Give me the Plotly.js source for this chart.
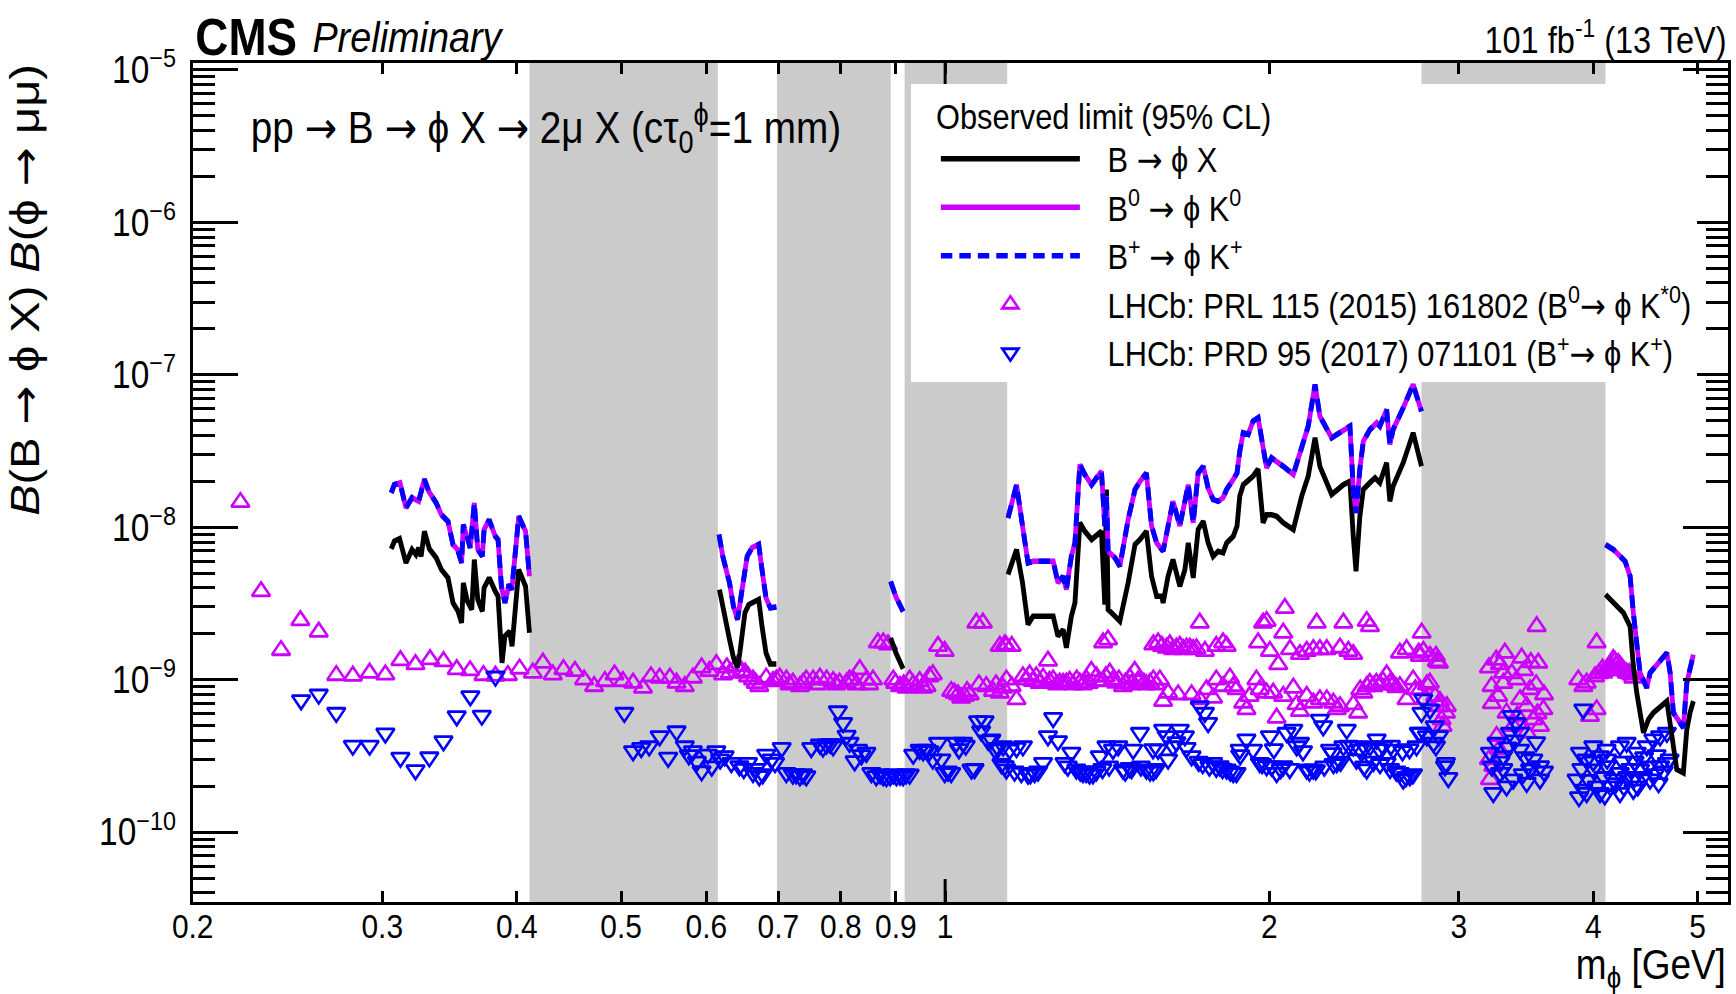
<!DOCTYPE html>
<html>
<head>
<meta charset="utf-8">
<script src="https://cdn.plot.ly/plotly-3.0.1.min.js"></script>
<style>
  html, body { margin: 0; padding: 0; background: #ffffff; overflow: hidden; width: 1736px; height: 994px; }
  /* the figure is laid out wider and then narrowed, which gives the condensed lettering of the page */
  #plot { width: 1973px; height: 994px; transform-origin: 0 0; }
</style>
</head>
<body>
<div id="plot"></div>
<script>
// Observed 95% CL limits on B(B -> phi X) B(phi -> mu mu), c*tau = 1 mm.
// null entries separate the mass windows that are vetoed.

// Inclusive B -> phi X limit
const massInclusive = [
  0.3058,0.3079,0.3113,0.3156,0.3197,0.3224,0.3243,0.326,0.3283,0.3318,0.3367,0.3404,0.3453,0.349,0.3528,0.3555,0.3568,0.3599,0.3633,0.3653,0.368,0.3716,0.373,0.3771,0.382,0.3843,0.3876,0.39,0.394,0.396,0.4017,0.4076,0.411,
  null,
  0.6171,0.6237,0.6305,0.6359,0.6414,0.6446,0.6481,0.6517,0.6571,0.6711,0.6759,0.6817,0.688,0.697,
  null,
  0.890,0.900,0.914,
  null,
  1.144,1.165,1.180,1.194,1.207,1.260,1.273,1.287,1.296,1.310,1.320,1.334,1.348,1.368,1.397,1.407,1.412,1.417,1.438,1.453,1.479,1.501,1.517,1.538,1.555,1.572,1.589,1.594,1.611,1.628,1.652,1.670,1.682,1.700,1.718,1.737,1.755,1.774,1.793,1.812,1.826,1.852,1.867,1.878,1.892,1.932,1.953,1.974,1.989,2.010,2.032,2.061,2.106,2.144,2.174,2.206,2.229,2.286,2.344,2.377,2.394,2.408,2.428,2.446,2.481,2.508,2.534,2.571,2.589,2.607,2.664,2.721,2.770,
  null,
  4.106,4.266,4.328,4.358,4.39,4.421,4.453,4.501,4.549,4.682,4.732,4.782,4.85,4.886,4.92,4.955
];
const limitInclusive = [
  7.22e-9,8.1e-9,8.4e-9,5.84e-9,7.14e-9,6.62e-9,7.33e-9,6.45e-9,9.4e-9,7.22e-9,6.3e-9,5.28e-9,4.66e-9,3.19e-9,2.81e-9,2.36e-9,4.32e-9,3.27e-9,2.88e-9,6.14e-9,3.36e-9,2.81e-9,4.01e-9,4.66e-9,3.8e-9,3.53e-9,1.29e-9,1.93e-9,2.08e-9,1.66e-9,5.28e-9,4.1e-9,2.03e-9,
  null,
  3.9e-9,2.61e-9,1.84e-9,1.39e-9,1.2e-9,1.5e-9,1.93e-9,2.75e-9,3.11e-9,3.36e-9,2.24e-9,1.5e-9,1.27e-9,1.27e-9,
  null,
  1.88e-9,1.5e-9,1.18e-9,
  null,
  4.9e-9,7.14e-9,4.32e-9,2.3e-9,2.61e-9,2.61e-9,1.93e-9,2.13e-9,1.62e-9,2.61e-9,3.19e-9,1.07e-8,9.42e-9,8.31e-9,9.42e-9,3.11e-9,1.77e-8,2.89e-9,2.61e-9,2.42e-9,4.32e-9,7.7e-9,8.31e-9,9.42e-9,4.77e-9,3.53e-9,3.53e-9,3.19e-9,4.77e-9,6.14e-9,4.1e-9,5.28e-9,7.9e-9,4.66e-9,9.66e-9,1.095e-8,7.9e-9,6.45e-9,6.96e-9,6.8e-9,7.9e-9,8.73e-9,1.02e-8,1.6e-8,1.9e-8,2.16e-8,2.41e-8,1.07e-8,1.21e-8,1.21e-8,1.18e-8,1.07e-8,9.66e-9,1.6e-8,2.16e-8,3.86e-8,2.51e-8,1.64e-8,1.9e-8,2.0e-8,8.73e-9,5.15e-9,1.18e-8,1.77e-8,1.96e-8,2.11e-8,1.96e-8,2.65e-8,1.48e-8,1.86e-8,2.65e-8,4.16e-8,2.51e-8,
  null,
  3.62e-9,2.75e-9,2.24e-9,1.23e-9,8.2e-10,5.77e-10,4.49e-10,5.48e-10,6.07e-10,7.23e-10,4.49e-10,2.58e-10,2.45e-10,4.71e-10,6.07e-10,7.23e-10
];

// Exclusive B0 -> phi K0 and B+ -> phi K+ limits (the two coincide)
const massExclusive = [
  0.3058,0.3079,0.3116,0.3156,0.3197,0.3243,0.3283,0.3314,0.3367,0.3404,0.3453,0.349,0.3524,0.3555,0.3568,0.3599,0.3621,0.3653,0.368,0.3716,0.373,0.3771,0.382,0.3843,0.3871,0.39,0.3934,0.3958,0.4017,0.4076,0.411,
  null,
  0.6165,0.6215,0.6305,0.6359,0.6414,0.6481,0.6548,0.6617,0.6711,0.6759,0.6817,0.688,0.697,
  null,
  0.890,0.900,0.914,
  null,
  1.144,1.165,1.180,1.194,1.207,1.260,1.273,1.287,1.296,1.310,1.320,1.334,1.348,1.368,1.397,1.407,1.412,1.417,1.438,1.453,1.479,1.501,1.517,1.538,1.555,1.572,1.594,1.611,1.628,1.652,1.670,1.682,1.700,1.718,1.737,1.755,1.774,1.793,1.812,1.826,1.852,1.867,1.878,1.892,1.912,1.932,1.953,1.974,1.989,2.010,2.032,2.061,2.106,2.144,2.174,2.206,2.229,2.286,2.344,2.377,2.394,2.408,2.428,2.446,2.481,2.517,2.534,2.571,2.589,2.607,2.664,2.721,2.770,
  null,
  4.106,4.176,4.282,4.328,4.358,4.39,4.421,4.485,4.517,4.682,4.715,4.748,4.85,4.886,4.92,4.955
];
const limitExclusive = [
  1.68e-8,1.905e-8,1.954e-8,1.34e-8,1.56e-8,1.48e-8,2.06e-8,1.72e-8,1.445e-8,1.21e-8,1.09e-8,7.7e-9,7.14e-9,5.84e-9,1.04e-8,8.3e-9,7.33e-9,1.445e-8,7.14e-9,6.45e-9,9.66e-9,1.12e-8,8.73e-9,8.3e-9,4.1e-9,3.19e-9,4.21e-9,3.9e-9,1.18e-8,9.4e-9,4.77e-9,
  null,
  8.95e-9,6.45e-9,4.32e-9,3.03e-9,2.48e-9,3.9e-9,6.45e-9,7.33e-9,7.7e-9,5.28e-9,3.44e-9,2.96e-9,3.0e-9,
  null,
  4.4e-9,3.5e-9,2.8e-9,
  null,
  1.15e-8,1.9e-8,1.02e-8,5.84e-9,5.98e-9,5.98e-9,4.32e-9,4.77e-9,3.9e-9,6.45e-9,7.9e-9,2.58e-8,2.22e-8,1.9e-8,2.33e-8,1.02e-8,1.6e-8,6.96e-9,6.3e-9,5.55e-9,1.12e-8,1.77e-8,2.0e-8,2.27e-8,1.02e-8,7.9e-9,6.96e-9,1.02e-8,1.48e-8,1.02e-8,1.48e-8,1.9e-8,1.07e-8,2.27e-8,2.51e-8,1.81e-8,1.52e-8,1.48e-8,1.56e-8,1.77e-8,2.06e-8,2.27e-8,3.15e-8,4.16e-8,4.06e-8,4.96e-8,5.22e-8,3.15e-8,2.45e-8,2.85e-8,2.71e-8,2.51e-8,2.22e-8,3.4e-8,4.6e-8,8.63e-8,5.34e-8,3.86e-8,4.37e-8,4.6e-8,1.77e-8,1.24e-8,2.41e-8,3.66e-8,4.37e-8,4.84e-8,4.6e-8,5.91e-8,3.49e-8,4.37e-8,6.07e-8,8.63e-8,5.76e-8,
  null,
  7.7e-9,7.14e-9,5.98e-9,4.77e-9,2.75e-9,1.66e-9,1.11e-9,8.85e-10,1.11e-9,1.5e-9,1.11e-9,6.07e-10,4.84e-10,9.55e-10,1.17e-9,1.46e-9
];

// LHCb, PRL 115 (2015) 161802: B0 -> phi K*0
const kstarMass = [
  0.2215,0.2315,0.2416,0.2518,0.2619,0.2719,0.2817,0.292,0.302,0.3119,0.3221,0.3323,0.342,0.3518,0.362,0.3725,0.3822,0.3925,0.4024,
  0.414,0.423,0.432,0.442,0.453,0.462,0.472,0.483,0.493,0.502,0.513,0.524,0.533,0.543,0.555,0.563,0.573,0.583,0.594,0.604,0.613,0.622,0.627,0.631,0.640,0.647,0.652,0.656,0.663,0.667,0.672,0.682,0.692,0.697,0.702,0.712,0.717,0.722,0.733,0.738,0.743,0.754,0.760,0.765,0.776,0.787,0.792,0.798,0.810,0.815,0.821,0.827,0.833,0.845,0.850,0.857,0.866,0.876,0.885,0.895,0.899,0.908,0.915,0.921,0.927,0.934,0.940,0.947,0.954,0.961,0.967,0.974,0.985,0.999,1.013,1.02,1.028,1.035,1.043,1.048,1.054,1.069,1.075,1.084,1.092,1.108,1.115,1.124,1.132,1.140,
  1.136,1.153,1.402,1.417,1.561,1.577,1.59,1.606,1.617,1.628,1.64,1.652,1.664,1.676,1.688,1.700,1.712,1.724,1.743,1.786,1.812,1.826,1.953,1.974,1.989,2.003,2.039,2.061,2.068,2.091,2.136,2.167,2.198,2.214,2.229,2.262,2.327,2.344,2.369,2.394,2.464,2.481,2.645,2.683,2.761,
  1.124,1.14,1.153,1.165,1.181,1.19,1.198,1.206,1.215,1.224,1.233,1.246,1.25,1.260,1.27,1.278,1.287,1.296,1.305,1.315,1.325,1.334,1.343,1.353,1.36,1.367,1.382,1.39,1.402,1.41,1.422,1.43,1.442,1.45,1.463,1.47,1.484,1.49,1.500,1.51,1.517,1.53,1.538,1.55,1.561,1.57,1.583,1.594,1.611,1.646,1.694,1.724,1.749,1.774,1.786,1.812,1.839,1.852,1.865,1.892,1.905,1.918,1.946,1.960,1.989,2.017,2.032,2.061,2.106,2.121,2.136,2.167,2.198,2.229,2.262,2.294,2.311,2.327,2.394,2.419,2.43,2.446,2.464,2.48,2.499,2.515,2.534,2.55,2.571,2.59,2.607,2.625,2.645,2.683,2.721,2.761,
  2.734,2.754,2.771,2.781,2.789,2.802,2.82,2.821,2.852,2.857,2.862,2.875,2.875,2.882,2.892,2.898,2.919,2.924,
  3.2,3.2,3.207,3.218,3.22,3.23,3.253,3.25,3.264,3.27,3.276,3.299,3.3,3.311,3.323,3.36,3.371,3.395,3.4,3.42,3.432,3.45,3.469,3.47,3.494,3.5,3.519,3.54,3.544,3.55,3.556,3.569,3.595,3.6,
  3.874,3.916,3.944,3.972,4.015,4.029,4.029,4.05,4.08,4.087,4.12,4.145,4.16,4.175,4.19,4.2,4.22,4.235,4.25,4.27,4.296,4.32,4.34,4.358
];
const kstarLimit = [
  1.46e-8,3.8e-9,1.56e-9,2.45e-9,2.06e-9,1.07e-9,1.06e-9,1.11e-9,1.08e-9,1.34e-9,1.26e-9,1.36e-9,1.32e-9,1.17e-9,1.15e-9,1.07e-9,1.06e-9,1.07e-9,1.18e-9,
  1.11e-9,1.29e-9,1.08e-9,1.17e-9,1.14e-9,1.0e-9,9.06e-10,9.77e-10,1.08e-9,9.77e-10,9.54e-10,8.85e-10,1.05e-9,1.03e-9,1.03e-9,9.54e-10,9.06e-10,1.03e-9,1.2e-9,1.14e-9,1.26e-9,1.08e-9,1.2e-9,1.11e-9,1.23e-9,1.14e-9,1.11e-9,1.05e-9,1.0e-9,9.5e-10,9.06e-10,1.03e-9,9.77e-10,1.0e-9,1.03e-9,1.0e-9,9.3e-10,9.54e-10,9.06e-10,9.5e-10,1.0e-9,1.0e-9,9.3e-10,1.03e-9,1.0e-9,9.77e-10,9.3e-10,9.54e-10,9.54e-10,1.0e-9,1.0e-9,9.3e-10,1.17e-9,1.0e-9,9.3e-10,1.0e-9,1.75e-9,1.75e-9,1.7e-9,1.0e-9,9.5e-10,9.06e-10,9.3e-10,8.85e-10,1.0e-9,9.3e-10,9.0e-10,9.77e-10,8.85e-10,9.06e-10,1.05e-9,1.08e-9,1.66e-9,1.54e-9,8.41e-10,8.2e-10,8.0e-10,7.6e-10,7.8e-10,8.4e-10,8.0e-10,2.36e-9,9.3e-10,2.36e-9,9.06e-10,8.41e-10,9.3e-10,1.66e-9,8.85e-10,1.66e-9,
  1.70e-9,1.66e-9,1.75e-9,1.83e-9,1.70e-9,1.75e-9,1.66e-9,1.62e-9,1.7e-9,1.58e-9,1.62e-9,1.66e-9,1.58e-9,1.62e-9,1.62e-9,1.58e-9,1.6e-9,2.36e-9,1.54e-9,1.66e-9,1.75e-9,1.66e-9,1.75e-9,2.36e-9,2.42e-9,1.54e-9,1.26e-9,2.03e-9,2.95e-9,1.58e-9,1.47e-9,1.54e-9,1.58e-9,2.36e-9,1.58e-9,1.58e-9,1.62e-9,2.36e-9,1.54e-9,1.47e-9,2.42e-9,2.24e-9,1.5e-9,1.58e-9,1.43e-9,
  8.2e-10,1.0e-9,9.06e-10,7.42e-10,1.05e-9,1.0e-9,1.08e-9,9.8e-10,1.05e-9,9.5e-10,1.03e-9,1.33e-9,9.8e-10,1.0e-9,9.3e-10,9.54e-10,9.5e-10,9.54e-10,9.8e-10,9.3e-10,1.0e-9,9.54e-10,9.3e-10,1.0e-9,9.5e-10,1.14e-9,1.05e-9,9.8e-10,9.77e-10,1.05e-9,1.11e-9,9.8e-10,9.54e-10,1.0e-9,9.06e-10,9.5e-10,1.03e-9,9.3e-10,1.14e-9,9.8e-10,1.0e-9,9.5e-10,9.3e-10,9.5e-10,1.0e-9,9.3e-10,1.0e-9,7.24e-10,8.2e-10,8.0e-10,8.0e-10,7.42e-10,8.63e-10,7.6e-10,1.0e-9,9.06e-10,1.03e-9,9.06e-10,8.63e-10,7.06e-10,6.38e-10,7.8e-10,1.0e-9,8.63e-10,8.2e-10,8.2e-10,5.62e-10,7.8e-10,8.85e-10,6.88e-10,6.23e-10,7.8e-10,7.06e-10,7.42e-10,7.42e-10,7.06e-10,6.38e-10,6.7e-10,6.88e-10,6.07e-10,8.6e-10,8.2e-10,9.06e-10,9.5e-10,9.06e-10,9.5e-10,9.3e-10,9.8e-10,1.08e-9,9.5e-10,9.3e-10,8.9e-10,9.06e-10,7.42e-10,1.0e-9,8.63e-10,
  8.63e-10,1.5e-9,2.03e-9,1.54e-9,7.42e-10,9.3e-10,9.54e-10,1.43e-9,7.8e-10,1.43e-9,1.32e-9,1.29e-9,6.7e-10,7.23e-10,5.48e-10,4.96e-10,6.07e-10,6.7e-10,
  1.2e-9,3.0e-10,2.22e-10,9.06e-10,7e-10,2.71e-10,4.26e-10,1.35e-9,7.8e-10,3.5e-10,1.26e-9,1.11e-9,9.5e-10,1.5e-9,6.07e-10,1.1e-9,4.96e-10,1.0e-9,5.8e-10,7.42e-10,1.39e-9,1.15e-9,6.7e-10,4.5e-10,8.63e-10,1.3e-9,5.48e-10,9.3e-10,2.24e-9,6.0e-10,1.29e-9,4.96e-10,6.38e-10,8e-10,
  1.0e-9,9.06e-10,9.54e-10,5.77e-10,1.05e-9,1.75e-9,6.38e-10,1.1e-9,1.18e-9,1.11e-9,1.15e-9,1.23e-9,1.2e-9,1.36e-9,1.32e-9,1.25e-9,1.28e-9,1.23e-9,1.2e-9,1.15e-9,1.11e-9,1.1e-9,1.08e-9,1.03e-9
];

// LHCb, PRD 95 (2017) 071101: B+ -> phi K+
const kplusMass = [
  0.2522,0.2619,0.2719,0.2817,0.292,0.302,0.3119,0.3221,0.3318,0.342,0.3518,0.3622,0.3712,0.3822,
  0.5035,0.513,0.522,0.531,0.543,0.553,0.563,0.573,0.578,0.583,0.588,0.594,0.602,0.607,0.613,0.618,0.624,0.633,0.644,0.65,0.656,0.663,0.667,0.672,0.677,0.682,0.69,0.695,0.705,0.712,0.722,0.727,0.733,0.738,0.743,0.751,0.765,0.77,0.776,0.782,0.787,0.795,0.804,0.81,0.815,0.824,0.830,0.836,0.845,0.854,0.863,0.87,0.876,0.882,0.889,0.895,0.901,0.908,0.914,0.92,0.927,0.934,0.947,0.954,0.961,0.967,0.974,0.985,0.992,0.999,1.006,1.013,1.024,1.03,1.039,1.045,1.058,1.065,1.073,1.08,1.088,1.096,1.104,1.112,1.120,1.128,1.136,
  1.132,1.140,1.148,1.16,1.165,1.177,1.181,1.194,1.2,1.211,1.22,1.233,1.246,1.260,1.273,1.291,1.30,1.310,1.324,1.335,1.343,1.352,1.362,1.372,1.382,1.392,1.40,1.412,1.42,1.432,1.448,1.463,1.47,1.484,1.49,1.495,1.517,1.52,1.538,1.55,1.56,1.561,1.57,1.577,1.594,1.606,1.611,1.628,1.64,1.652,1.670,1.676,1.694,1.72,1.724,1.735,1.743,1.755,1.76,1.774,1.786,1.799,1.81,1.826,1.84,1.852,1.865,1.878,1.88,1.905,1.932,1.960,1.97,1.989,2.003,2.01,2.02,2.032,2.05,2.061,2.076,2.09,2.106,2.121,2.136,2.15,2.167,2.18,2.198,2.21,2.229,2.245,2.25,2.278,2.29,2.295,2.311,2.33,2.344,2.361,2.37,2.394,2.41,2.428,2.45,2.455,2.464,2.481,2.50,2.517,2.53,2.535,2.552,2.571,2.59,2.595,2.607,2.625,2.645,2.66,2.664,2.68,2.70,2.702,2.72,2.741,2.761,
  2.754,2.77,2.781,2.802,2.821,2.842,2.85,2.857,2.875,2.913,2.919,2.934,
  3.207,3.22,3.23,3.253,3.276,3.28,3.299,3.3,3.323,3.33,3.347,3.36,3.371,3.38,3.395,3.42,3.42,3.44,3.46,3.469,3.494,3.5,3.519,3.54,3.569,3.569,3.6,
  3.86,3.88,3.888,3.9,3.916,3.916,3.944,3.944,3.96,4.0,4.0,4.0,4.03,4.058,4.058,4.09,4.1,4.116,4.116,4.12,4.15,4.175,4.2,4.235,4.235,4.235,4.26,4.27,4.296,4.3,4.33,4.358,4.358,4.37,4.39,4.4,4.421,4.45,4.46,4.485,4.5,4.517,4.549,4.56,4.58,4.6,4.615,4.615,4.65,4.682,4.682,4.71
];
const kplusLimit = [
  7.34e-10,8.0e-10,6.07e-10,3.7e-10,3.7e-10,4.44e-10,3.08e-10,2.55e-10,3.1e-10,3.95e-10,5.77e-10,7.8e-10,5.82e-10,1.05e-9,
  6.07e-10,3.4e-10,3.57e-10,3.66e-10,4.26e-10,3.08e-10,4.59e-10,3.66e-10,3.2e-10,3.4e-10,2.9e-10,2.51e-10,3.23e-10,2.7e-10,3.4e-10,3.0e-10,3.15e-10,2.85e-10,2.71e-10,2.6e-10,2.85e-10,2.45e-10,2.6e-10,2.33e-10,2.4e-10,3.23e-10,3.0e-10,2.85e-10,3.57e-10,2.45e-10,2.39e-10,2.4e-10,2.33e-10,2.4e-10,2.33e-10,3.57e-10,3.76e-10,3.6e-10,3.76e-10,3.8e-10,3.66e-10,6.21e-10,5.21e-10,4.3e-10,3.86e-10,2.92e-10,3.48e-10,3.2e-10,3.32e-10,2.45e-10,2.33e-10,2.4e-10,2.33e-10,2.3e-10,2.33e-10,2.4e-10,2.33e-10,2.35e-10,2.33e-10,2.4e-10,2.39e-10,3.23e-10,3.48e-10,3.4e-10,3.48e-10,3.4e-10,3.0e-10,3.86e-10,3.0e-10,2.45e-10,2.5e-10,2.45e-10,3.86e-10,3.5e-10,3.86e-10,3.7e-10,2.58e-10,2.6e-10,5.35e-10,4.6e-10,5.35e-10,4.0e-10,4.06e-10,3.5e-10,3.57e-10,2.8e-10,2.71e-10,
  3.66e-10,2.58e-10,3.48e-10,2.5e-10,3.57e-10,2.45e-10,3.66e-10,2.39e-10,2.4e-10,2.45e-10,2.5e-10,2.85e-10,4.26e-10,5.62e-10,3.96e-10,2.85e-10,2.7e-10,3.32e-10,2.58e-10,2.5e-10,2.45e-10,2.45e-10,2.39e-10,2.4e-10,2.51e-10,3.15e-10,2.6e-10,3.66e-10,2.7e-10,3.48e-10,3.66e-10,2.58e-10,2.5e-10,2.64e-10,2.6e-10,3.48e-10,4.49e-10,2.7e-10,2.58e-10,2.5e-10,3.5e-10,2.51e-10,2.6e-10,3.48e-10,4.71e-10,4.26e-10,3.0e-10,3.66e-10,3.9e-10,4.71e-10,4.26e-10,3.57e-10,3.15e-10,2.9e-10,6.7e-10,2.8e-10,6.07e-10,5.21e-10,2.7e-10,2.85e-10,2.65e-10,2.71e-10,2.6e-10,2.58e-10,2.5e-10,2.45e-10,2.45e-10,3.48e-10,3.2e-10,4.06e-10,3.48e-10,2.85e-10,2.8e-10,2.71e-10,4.26e-10,2.7e-10,3.5e-10,2.45e-10,2.6e-10,2.71e-10,4.49e-10,2.6e-10,4.71e-10,3.66e-10,3.86e-10,3.4e-10,2.58e-10,2.5e-10,2.58e-10,2.55e-10,5.48e-10,4.96e-10,2.7e-10,3.48e-10,3.3e-10,2.8e-10,2.85e-10,2.9e-10,3.66e-10,4.71e-10,3.7e-10,3.66e-10,3.0e-10,3.48e-10,2.7e-10,3.6e-10,2.58e-10,3.66e-10,2.9e-10,4.06e-10,3.5e-10,2.8e-10,3.66e-10,2.85e-10,2.6e-10,3.7e-10,3.48e-10,2.5e-10,2.45e-10,3.4e-10,2.22e-10,2.3e-10,3.5e-10,2.33e-10,2.4e-10,3.66e-10,4.49e-10,
  4.49e-10,6.07e-10,7.42e-10,4.26e-10,6.38e-10,3.86e-10,4.96e-10,3.66e-10,4.26e-10,2.71e-10,2.85e-10,2.27e-10,
  3.32e-10,2.7e-10,1.81e-10,3.86e-10,2.45e-10,2.9e-10,3.15e-10,2.6e-10,2.0e-10,3.6e-10,4.49e-10,5.8e-10,2.22e-10,4.0e-10,5.21e-10,3.48e-10,4.5e-10,2.4e-10,3.1e-10,2.11e-10,2.58e-10,2.6e-10,3.0e-10,3.9e-10,2.71e-10,2.22e-10,2.5e-10,
  2.22e-10,1.7e-10,3.32e-10,2.6e-10,6.38e-10,1.9e-10,3.0e-10,1.81e-10,2.2e-10,3.66e-10,2.58e-10,2.9e-10,2.0e-10,3.15e-10,1.81e-10,2.3e-10,1.75e-10,3.48e-10,2.71e-10,3.0e-10,2.0e-10,2.22e-10,2.1e-10,3.66e-10,2.45e-10,1.81e-10,2.9e-10,2.0e-10,3.86e-10,2.3e-10,2.6e-10,2.22e-10,1.9e-10,2.9e-10,3.32e-10,2.0e-10,2.58e-10,2.3e-10,3.1e-10,3.66e-10,2.7e-10,2.22e-10,4.06e-10,2.4e-10,3.2e-10,2.1e-10,4.26e-10,2.71e-10,2.5e-10,4.49e-10,2.85e-10,3.0e-10
];

// Vetoed mass windows (GeV)
const vetoLow  = [0.411, 0.698, 0.917, 2.770];
const vetoHigh = [0.615, 0.890, 1.142, 4.106];

// Axis ticks
const xTickVals = [0.2, 0.3, 0.4, 0.5, 0.6, 0.7, 0.8, 0.9, 1, 2, 3, 4, 5];
const xTickText = ['0.2', '0.3', '0.4', '0.5', '0.6', '0.7', '0.8', '0.9', '1', '2', '3', '4', '5'];
const yTickVals = [1e-10, 1e-9, 1e-8, 1e-7, 1e-6, 1e-5];
const yTickText = ['10<sup>\u221210</sup>', '10<sup>\u22129</sup>', '10<sup>\u22128</sup>',
                   '10<sup>\u22127</sup>', '10<sup>\u22126</sup>', '10<sup>\u22125</sup>'];

// ---- page geometry: figure drawn at layout width W, then narrowed by S to 1736 px
const PAGE_W = 1736, PAGE_H = 994;
const W = 1973;
const S = PAGE_W / W;
document.getElementById('plot').style.transform = 'scaleX(' + S + ')';
const L = 193 / S;            // left edge of the frame
const R = W - 1728 / S;       // right margin
const T = 63, B = PAGE_H - 902.5;
const plotH = PAGE_H - T - B;

const FONT = 'Liberation Sans, Arial, Helvetica, sans-serif';
const ARROW = '<span style="font-family:DejaVu Sans">\u2192</span>';
const PHI = '\u03d5';
const PAD = '\u00a0\u00a0\u2009';
const MAGENTA = '#cc00ff';
const BLUE = '#0000ff';

const traces = [
  {
    x: kstarMass, y: kstarLimit, type: 'scatter', mode: 'markers',
    name: PAD + 'LHCb: PRL 115 (2015) 161802 (B<sup>0</sup>' + ARROW + ' ' + PHI + ' K<sup>*0</sup>)',
    legendrank: 4, legendgroup: 'g4',
    marker: { symbol: 'triangle-up-open', size: 18, color: MAGENTA, line: { width: 2.8, color: MAGENTA } }
  },
  {
    x: kplusMass, y: kplusLimit, type: 'scatter', mode: 'markers',
    name: PAD + 'LHCb: PRD 95 (2017) 071101 (B<sup>+</sup>' + ARROW + ' ' + PHI + ' K<sup>+</sup>)',
    legendrank: 5, legendgroup: 'g5',
    marker: { symbol: 'triangle-down-open', size: 18, color: BLUE, line: { width: 2.8, color: BLUE } }
  },
  {
    x: massInclusive, y: limitInclusive, type: 'scatter', mode: 'lines',
    name: PAD + 'B ' + ARROW + ' ' + PHI + ' X', legendrank: 1, legendgroup: 'g1',
    line: { color: '#000000', width: 5.5 }, connectgaps: false
  },
  {
    x: massExclusive, y: limitExclusive, type: 'scatter', mode: 'lines',
    name: PAD + 'B<sup>0</sup> ' + ARROW + ' ' + PHI + ' K<sup>0</sup>', legendrank: 2, legendgroup: 'g2',
    line: { color: MAGENTA, width: 5.5 }, connectgaps: false
  },
  {
    x: massExclusive, y: limitExclusive, type: 'scatter', mode: 'lines',
    name: PAD + 'B<sup>+</sup> ' + ARROW + ' ' + PHI + ' K<sup>+</sup>', legendrank: 3, legendgroup: 'g3',
    line: { color: BLUE, width: 5.5, dash: '13px,8px' }, connectgaps: false
  }
];

const shapes = vetoLow.map((lo, i) => ({
  type: 'rect', xref: 'x', yref: 'paper', x0: lo, x1: vetoHigh[i], y0: 0, y1: 1,
  fillcolor: '#cbcbcb', line: { width: 0 }, layer: 'below'
}));
// longer primary tick at 1 GeV on the bottom and top edges
shapes.push(
  { type: 'line', xref: 'x', yref: 'paper', x0: 1, x1: 1, y0: 0, y1: 23 / plotH, line: { color: '#000', width: 3.4 }, layer: 'above' },
  { type: 'line', xref: 'x', yref: 'paper', x0: 1, x1: 1, y0: 1 - 23 / plotH, y1: 1, line: { color: '#000', width: 3.4 }, layer: 'above' }
);

const annotations = [
  { text: '<b>CMS</b>', xref: 'paper', yref: 'paper', x: 0.0007, y: 1.031, xanchor: 'left', yanchor: 'middle',
    showarrow: false, font: { family: FONT, size: 52, color: '#000' } },
  { text: '<i>Preliminary</i>', xref: 'paper', yref: 'paper', x: 0.0769, y: 1.031, xanchor: 'left', yanchor: 'middle',
    showarrow: false, font: { family: FONT, size: 43, color: '#000' } },
  { text: '101 fb<sup>-1</sup> (13 TeV)', xref: 'paper', yref: 'paper', x: 1.0, y: 1.0298, xanchor: 'right', yanchor: 'middle',
    showarrow: false, font: { family: FONT, size: 37, color: '#000' } },
  { text: 'pp ' + ARROW + ' B ' + ARROW + ' ' + PHI + ' X ' + ARROW + ' 2\u03bc X (c\u03c4<sub>0</sub><sup>' + PHI + '</sup>=1 mm)',
    xref: 'paper', yref: 'paper', x: 0.0365, y: 0.9214, xanchor: 'left', yanchor: 'middle',
    showarrow: false, font: { family: FONT, size: 44, color: '#000' } },
  { text: '<i>B</i>(B ' + ARROW + ' ' + PHI + ' X) <i>B</i>(' + PHI + ' ' + ARROW + ' \u03bc\u03bc)', xref: 'paper', yref: 'paper',
    x: -0.1094, y: 0.7296, xanchor: 'center', yanchor: 'middle', textangle: -90,
    showarrow: false, font: { family: FONT, size: 47, color: '#000' } },
  { text: 'm<sub>' + PHI + '</sub> [GeV]', xref: 'paper', yref: 'paper', x: 1.0, y: -0.0775, xanchor: 'right', yanchor: 'middle',
    showarrow: false, font: { family: FONT, size: 42, color: '#000' } }
];

const layout = {
  width: W, height: PAGE_H, autosize: false,
  margin: { l: L, r: R, t: T, b: B, pad: 0 },
  paper_bgcolor: '#ffffff', plot_bgcolor: '#ffffff',
  font: { family: FONT, color: '#000' },
  showlegend: true,
  legend: {
    x: 0.4678, y: 0.975, xanchor: 'left', yanchor: 'top',
    bgcolor: '#ffffff', borderwidth: 0,
    font: { family: FONT, size: 35, color: '#000' },
    title: { text: PAD + 'Observed limit (95% CL)', font: { family: FONT, size: 35, color: '#000' } },
    traceorder: 'grouped', tracegroupgap: 0, itemwidth: 158, indentation: 29
  },
  xaxis: {
    type: 'log', range: [Math.log10(0.2), Math.log10(5.337)],
    tickmode: 'array', tickvals: xTickVals, ticktext: xTickText,
    ticks: 'inside', ticklen: 11, tickwidth: 3.4, tickcolor: '#000',
    showline: true, linewidth: 3, linecolor: '#000', mirror: 'allticks',
    showgrid: false, zeroline: false, ticklabelstandoff: -8,
    tickfont: { family: FONT, size: 34, color: '#000' }
  },
  yaxis: {
    type: 'log', range: [-10.458, -4.955],
    tickmode: 'array', tickvals: yTickVals, ticktext: yTickText,
    ticks: 'inside', ticklen: 51, tickwidth: 3, tickcolor: '#000',
    minor: { tickmode: 'linear', dtick: 'D1', ticks: 'inside', ticklen: 25, tickwidth: 3, tickcolor: '#000', showgrid: false },
    showline: true, linewidth: 3.4, linecolor: '#000', mirror: 'allticks',
    showgrid: false, zeroline: false, ticklabelstandoff: 8,
    tickfont: { family: FONT, size: 38, color: '#000' }
  },
  shapes: shapes,
  annotations: annotations
};

Plotly.newPlot('plot', traces, layout, { displayModeBar: false, staticPlot: true });
</script>
</body>
</html>
